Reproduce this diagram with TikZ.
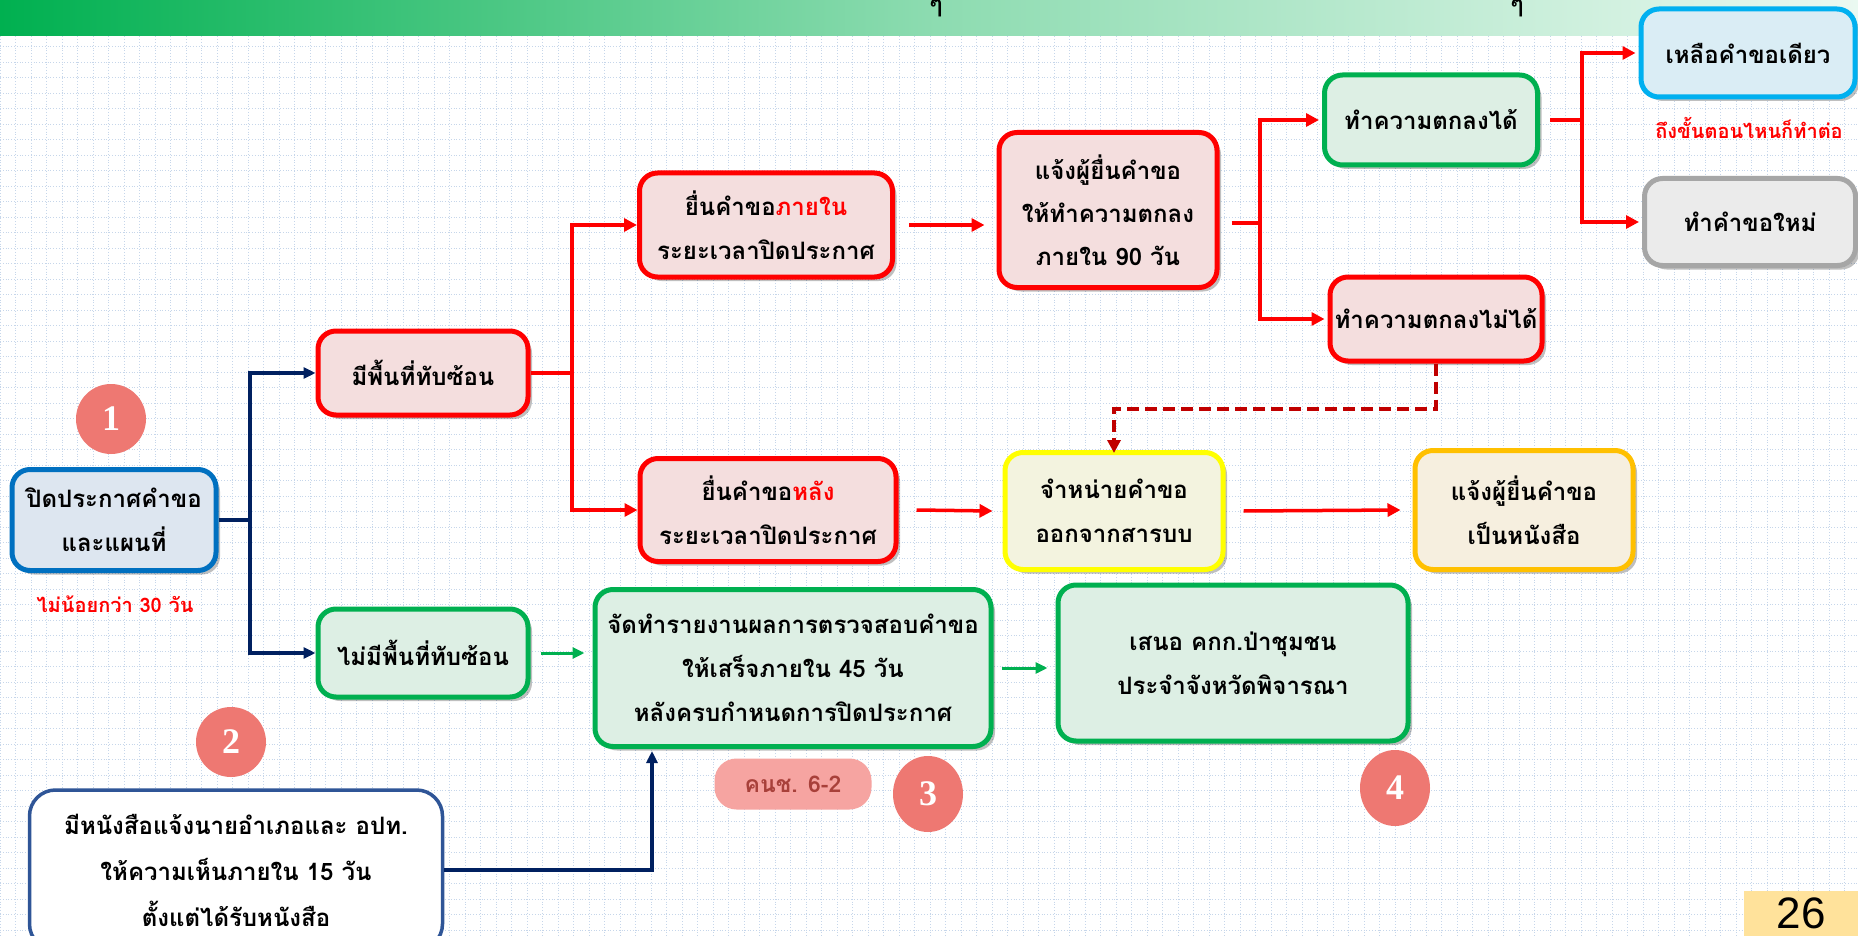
\documentclass[tikz,border=0pt]{standalone}
\usepackage{fontspec}
\newfontfamily\thai[Script=Thai]{Loma}
\newfontfamily\numf{Liberation Serif}
\newfontfamily\pagef{Liberation Sans}
\usetikzlibrary{shadows,arrows.meta,shapes.geometric}
\definecolor{navy}{HTML}{002060}
\definecolor{bred}{HTML}{FF0000}
\definecolor{dred}{HTML}{C00000}
\definecolor{bgreen}{HTML}{00B050}
\definecolor{fred}{HTML}{F4DEDE}
\definecolor{fgreen}{HTML}{DDEFE4}
\definecolor{fblue}{HTML}{DAEDF5}
\definecolor{bblue}{HTML}{00B0F0}
\definecolor{fgray}{HTML}{EBEBEB}
\definecolor{bgray}{HTML}{A6A6A6}
\definecolor{fyellow}{HTML}{F3F3DF}
\definecolor{byellow}{HTML}{FFFF00}
\definecolor{forange}{HTML}{F6EFDF}
\definecolor{borange}{HTML}{FFC000}
\definecolor{fone}{HTML}{DDE6F0}
\definecolor{bone}{HTML}{0070C0}
\definecolor{bletter}{HTML}{2F5597}
\definecolor{salmon}{HTML}{EE7872}
\definecolor{pill}{HTML}{F6A4A1}
\definecolor{pilltext}{HTML}{A8403A}
\definecolor{gridc}{HTML}{C6D6EA}
\definecolor{pagebg}{HTML}{FFE29B}
\begin{document}
\begin{tikzpicture}[x=1pt,y=-1pt,
  box/.style={rounded corners=18pt, line width=5pt, align=center, inner sep=0pt,
    font=\thai\bfseries\fontsize{24}{44}\selectfont,
    drop shadow={shadow xshift=4pt, shadow yshift=-4pt, opacity=0.25, fill=black}},
  redbox/.style={box, draw=bred, fill=fred},
  greenbox/.style={box, draw=bgreen, fill=fgreen},
  num/.style={ellipse, fill=salmon, text=white, font=\numf\bfseries\fontsize{36}{36}\selectfont, inner sep=0pt},
  note/.style={text=bred, font=\thai\bfseries\fontsize{20}{24}\selectfont},
  rarr/.style={draw=bred, line width=3.5pt, -{Triangle[length=13pt,width=13pt]}},
  rline/.style={draw=bred, line width=3.5pt},
  narr/.style={draw=navy, line width=3.5pt, -{Triangle[length=12pt,width=11pt]}},
  nline/.style={draw=navy, line width=3.5pt},
  garr/.style={draw=bgreen, line width=3pt, -{Triangle[length=12pt,width=11pt]}},
]
\useasboundingbox (0,0) rectangle (1858,936);
% grid background
\fill[white] (0,0) rectangle (1858,936);
\foreach \i in {0,...,120} \draw[gridc, line width=0.8pt, dotted] (\i*15.5,0) -- (\i*15.5,936);
\foreach \j in {0,...,61} \draw[gridc, line width=0.8pt, dotted] (0,\j*15.5) -- (1858,\j*15.5);
% header bar
\shade[left color=bgreen, right color=bgreen!8, middle color=bgreen!45] (0,0) rectangle (1858,36);
\node[font=\thai\bfseries\fontsize{24}{24}\selectfont, anchor=base] (h1) at (936,13) {ๆ};
\node[font=\thai\bfseries\fontsize{24}{24}\selectfont, anchor=base] (h2) at (1517,13) {ๆ};

% nodes
\node[box, draw=bone, fill=fone, minimum width=204pt, minimum height=101pt] (n1) at (114,520) {ปิดประกาศคำขอ\\และแผนที่};
\node[note] (t1) at (115,604) {ไม่น้อยกว่า 30 วัน};
\node[num, minimum width=70pt, minimum height=70pt] (c1) at (111,419) {1};

\node[redbox, minimum width=210pt, minimum height=84pt] (over) at (423,373) {มีพื้นที่ทับซ้อน};
\node[greenbox, minimum width=210pt, minimum height=88pt] (nover) at (423,653) {ไม่มีพื้นที่ทับซ้อน};

\node[redbox, minimum width=253pt, minimum height=104pt] (within) at (766,225) {ยื่นคำขอ\textcolor{bred}{ภายใน}\\ระยะเวลาปิดประกาศ};
\node[redbox, minimum width=256pt, minimum height=103pt] (after) at (768,510) {ยื่นคำขอ\textcolor{bred}{หลัง}\\ระยะเวลาปิดประกาศ};

\node[redbox, minimum width=218pt, minimum height=155pt, font=\thai\bfseries\fontsize{24}{43}\selectfont] (n90) at (1108,210) {แจ้งผู้ยื่นคำขอ\\ให้ทำความตกลง\\ภายใน 90 วัน};

\node[greenbox, minimum width=213pt, minimum height=90pt] (agree) at (1431,120) {ทำความตกลงได้};
\node[redbox, minimum width=212pt, minimum height=84pt] (disagree) at (1436,319) {ทำความตกลงไม่ได้};

\node[box, draw=bblue, fill=fblue, minimum width=214pt, minimum height=88pt] (remain) at (1748,53) {เหลือคำขอเดียว};
\node[note] (t2) at (1749,128) {ถึงขั้นตอนไหนก็ทำต่อ};
\node[box, draw=bgray, fill=fgray, minimum width=211pt, minimum height=87pt] (newreq) at (1750,222) {ทำคำขอใหม่};

\node[box, draw=byellow, fill=fyellow, minimum width=218pt, minimum height=117pt] (dispose) at (1114,511) {จำหน่ายคำขอ\\ออกจากสารบบ};
\node[box, draw=borange, fill=forange, minimum width=218pt, minimum height=119pt] (letter2) at (1524,510) {แจ้งผู้ยื่นคำขอ\\เป็นหนังสือ};

\node[greenbox, minimum width=396pt, minimum height=157pt] (report) at (793,668) {จัดทำรายงานผลการตรวจสอบคำขอ\\ให้เสร็จภายใน 45 วัน\\หลังครบกำหนดการปิดประกาศ};
\node[greenbox, minimum width=350pt, minimum height=156pt] (propose) at (1233,663) {เสนอ คกก.ป่าชุมชน\\ประจำจังหวัดพิจารณา};

\node[rounded corners=22pt, fill=pill, minimum width=157pt, minimum height=51pt, text=pilltext, font=\thai\bfseries\fontsize{23}{26}\selectfont] (knc) at (793,784) {คนช. 6-2};
\node[num, minimum width=70pt, minimum height=76pt] (c3) at (928,794) {3};
\node[num, minimum width=70pt, minimum height=70pt] (c2) at (231,742) {2};
\node[num, minimum width=70pt, minimum height=76pt] (c4) at (1395,788) {4};

\node[rounded corners=26pt, line width=3.5pt, draw=bletter, fill=white, align=center, inner sep=0pt,
  font=\thai\bfseries\fontsize{24}{46}\selectfont, minimum width=413pt, minimum height=160pt] (letter) at (236,870) {มีหนังสือแจ้งนายอำเภอและ อปท.\\ให้ความเห็นภายใน 15 วัน\\ตั้งแต่ได้รับหนังสือ};

\node[fill=pagebg, minimum width=114pt, minimum height=45pt, inner sep=0pt, anchor=north west, font=\pagef\fontsize{44}{44}\selectfont] (page) at (1744,891) {\raisebox{-3pt}{26}};

% connectors
\coordinate (j1) at (250,520);
\draw[nline] (n1.east) -- (j1);
\draw[narr] (j1) |- (over.west);
\draw[narr] (j1) |- (nover.west);

\coordinate (j2) at (572,373);
\draw[rline] (over.east) -- (j2);
\draw[rarr] (j2) |- (within.west);
\draw[rarr] (j2) |- (after.west);

\draw[rarr] ([xshift=14pt]within.east) -- ([xshift=-12pt]within.east -| n90.west);

\coordinate (j3) at (1260,223);
\draw[rline] ([xshift=12pt]n90.east |- j3) -- (j3);
\draw[rarr] (j3) |- ([xshift=-3pt]agree.west);
\draw[rarr] (j3) |- ([xshift=-3pt]disagree.west);

\coordinate (j4) at (1582,120);
\draw[rline] ([xshift=10pt]agree.east) -- (j4);
\draw[rarr] (j4) |- ([xshift=-3pt]remain.west);
\draw[rarr] (j4) |- ([xshift=-3pt]newreq.west);

\draw[draw=dred, line width=4pt, dashed, dash pattern=on 12pt off 6pt, -{Triangle[length=13pt,width=13pt]}]
  (disagree.south) -- ++(0,45) -| ([yshift=-3pt]dispose.north);

\draw[rarr] ([xshift=18pt]after.east) -- ([xshift=-10pt]dispose.west);
\draw[rarr] ([xshift=18pt]dispose.east) -- ([xshift=-12pt]letter2.west);

\draw[garr] ([xshift=10pt]nover.east) -- ([xshift=-8pt]report.west |- nover.east);
\draw[garr] ([xshift=8pt]report.east) -- ([xshift=-8pt]propose.west |- report.east);

\draw[narr] (letter.east) -| ([xshift=-141pt, yshift=-2pt]report.south);
\end{tikzpicture}
\end{document}
